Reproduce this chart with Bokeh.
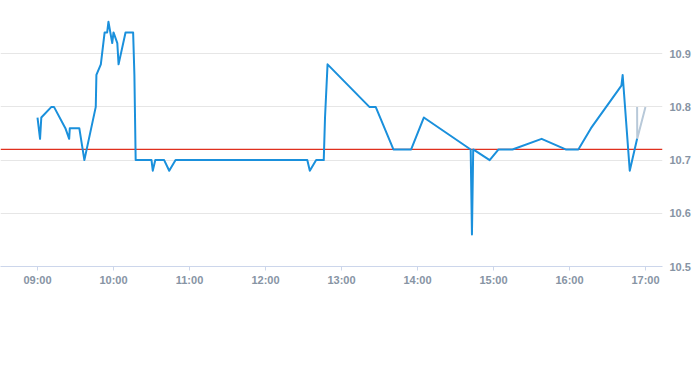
from datetime import datetime
from bokeh.plotting import figure
from bokeh.models import Range1d, FixedTicker, DatetimeTickFormatter, PrintfTickFormatter
from bokeh.embed import file_html
from bokeh.resources import INLINE

DAY = "2024-01-02 "

times = ["09:00:00", "09:02:00", "09:03:00", "09:11:00", "09:13:00", "09:22:00", "09:25:00", "09:25:30",
         "09:33:00", "09:37:00", "09:46:00", "09:46:30", "09:50:00", "09:51:00", "09:53:00", "09:55:00",
         "09:56:00", "09:59:00", "10:00:00", "10:03:00", "10:04:00", "10:09:30", "10:15:30", "10:16:30",
         "10:17:30", "10:30:00", "10:31:00", "10:33:00", "10:40:00", "10:44:00", "10:49:00", "12:33:00",
         "12:35:00", "12:40:00", "12:46:00", "12:47:00", "12:49:00", "13:22:00", "13:27:00", "13:41:00",
         "13:55:00", "14:05:00", "14:42:00", "14:43:00", "14:44:00", "14:57:00", "15:04:00", "15:15:00",
         "15:38:00", "15:57:00", "16:07:00", "16:17:00", "16:41:00", "16:42:00", "16:47:36", "16:53:24"]
prices = [10.78, 10.74, 10.78, 10.80, 10.80, 10.76, 10.74, 10.76,
          10.76, 10.70, 10.80, 10.86, 10.88, 10.90, 10.94, 10.94,
          10.96, 10.92, 10.94, 10.92, 10.88, 10.94, 10.94, 10.86,
          10.70, 10.70, 10.68, 10.70, 10.70, 10.68, 10.70, 10.70,
          10.68, 10.70, 10.70, 10.78, 10.88, 10.80, 10.80, 10.72,
          10.72, 10.78, 10.72, 10.56, 10.72, 10.70, 10.72, 10.72,
          10.74, 10.72, 10.72, 10.76, 10.84, 10.86, 10.68, 10.74]

tail_times = ["16:53:24", "16:53:30", "17:00:00"]
tail_prices = [10.80, 10.74, 10.80]

reference_price = 10.72

y_ticks = [10.5, 10.6, 10.7, 10.8, 10.9]
x_tick_labels = ["09:00", "10:00", "11:00", "12:00", "13:00", "14:00", "15:00", "16:00", "17:00"]


def to_dt(t):
    return datetime.strptime(DAY + t, "%Y-%m-%d %H:%M:%S")


def to_ms(d):
    return (d - datetime(1970, 1, 1)).total_seconds() * 1000.0


xs = [to_dt(t) for t in times]
tail_xs = [to_dt(t) for t in tail_times]
x_ticks = [to_ms(to_dt(t + ":00")) for t in x_tick_labels]

x_start, x_end = to_dt("08:30:47"), to_dt("17:13:27")

p = figure(width=693, height=365, output_backend="svg", toolbar_location=None,
           x_axis_type="datetime", y_axis_location="right",
           x_range=Range1d(x_start, x_end),
           y_range=Range1d(10.5, 11.0),
           min_border_left=0, min_border_top=0, min_border_right=28, min_border_bottom=99)
p.outline_line_color = None
p.background_fill_color = "white"
p.border_fill_color = "white"

p.xgrid.grid_line_color = None
p.ygrid.grid_line_color = "#e6e6e6"
p.ygrid.grid_line_width = 1

p.yaxis.ticker = FixedTicker(ticks=y_ticks)
p.yaxis.formatter = PrintfTickFormatter(format="%.1f")
p.yaxis.axis_line_color = None
p.yaxis.major_tick_line_color = None
p.yaxis.major_tick_out = 0
p.yaxis.major_tick_in = 0
p.yaxis.minor_tick_line_color = None
p.yaxis.minor_tick_out = 0
p.yaxis.axis_label_standoff = 0
p.yaxis.major_label_standoff = 7
p.yaxis.major_label_text_font = "Liberation Sans"
p.yaxis.major_label_text_font_size = "11px"
p.yaxis.major_label_text_font_style = "bold"
p.yaxis.major_label_text_color = "#8794a4"

p.xaxis.ticker = FixedTicker(ticks=x_ticks)
p.xaxis.formatter = DatetimeTickFormatter(hours="%H:%M", minutes="%H:%M", hourmin="%H:%M", days="%H:%M")
p.xaxis.axis_line_color = "#ccd6eb"
p.xaxis.major_tick_line_color = "#ccd6eb"
p.xaxis.major_tick_out = 4
p.xaxis.major_tick_in = 0
p.xaxis.minor_tick_line_color = None
p.xaxis.major_label_standoff = 3
p.xaxis.major_label_text_font = "Liberation Sans"
p.xaxis.major_label_text_font_size = "11px"
p.xaxis.major_label_text_font_style = "bold"
p.xaxis.major_label_text_color = "#8794a4"

p.line([x_start, x_end], [reference_price, reference_price], line_color="#e0301e", line_width=1.3, line_alpha=1.0)

p.line(tail_xs, tail_prices, line_color="#b8c9d9", line_width=2, line_join="round")
p.line(xs, prices, line_color="#1a90dc", line_width=2, line_join="round")

open("out.html", "w").write(file_html(p, INLINE))
